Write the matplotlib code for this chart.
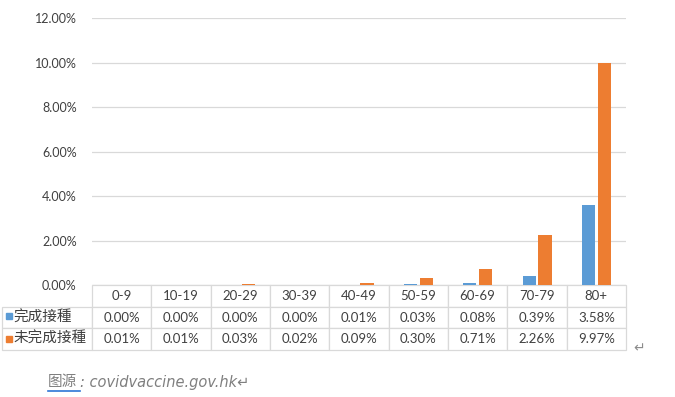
import numpy as np
import matplotlib
matplotlib.use("Agg")
import matplotlib.pyplot as plt
from matplotlib.patches import Rectangle

# 資料
age_groups = ["0-9", "10-19", "20-29", "30-39", "40-49", "50-59", "60-69", "70-79", "80+"]
completed = [0.00, 0.00, 0.00, 0.00, 0.01, 0.03, 0.08, 0.39, 3.58]      # 完成接種 (%)
incomplete = [0.01, 0.01, 0.03, 0.02, 0.09, 0.30, 0.71, 2.26, 9.97]     # 未完成接種 (%)
series_names = ["完成接種", "未完成接種"]
y_ticks = [0, 2, 4, 6, 8, 10, 12]

blue = "#5B9BD5"
orange = "#ED7D31"
grid_color = "#D9D9D9"
text_color = "#404040"
fonts = ["Lato", "Noto Sans CJK TC", "DejaVu Sans"]
plt.rcParams["font.family"] = fonts

W, H = 675, 397
fig = plt.figure(figsize=(W / 100, H / 100), dpi=100)

# área del gráfico en píxeles
x0, x1 = 92, 626
y_top, y_bot = 18, 285
ax = fig.add_axes([x0 / W, (H - y_bot) / H, (x1 - x0) / W, (y_bot - y_top) / H])

x = np.arange(len(age_groups))
ancho = 0.22
ax.bar(x - 0.13, completed, ancho, color=blue, zorder=3)
ax.bar(x + 0.135, incomplete, ancho, color=orange, zorder=3)

ax.set_xlim(-0.5, len(age_groups) - 0.5)
ax.set_ylim(0, 12)
ax.set_yticks(y_ticks)
ax.set_yticklabels([f"{v:.2f}%" for v in y_ticks], fontsize=9, color=text_color)
ax.tick_params(axis="y", length=0, pad=11)
ax.set_xticks([])
ax.grid(axis="y", color=grid_color, linewidth=0.9, zorder=0)
for s in ax.spines.values():
    s.set_visible(False)

# tabla de datos
linhas = [[""] + age_groups,
          [series_names[0]] + [f"{v:.2f}%" for v in completed],
          [series_names[1]] + [f"{v:.2f}%" for v in incomplete]]
tab_left, tab_bot = 2, 350
bw = (x1 - tab_left) / (x1 - x0)
bx = (tab_left - x0) / (x1 - x0)
bh = (tab_bot - y_bot) / (y_bot - y_top)
col_w = [x0 - tab_left] + [(x1 - x0) / len(age_groups)] * len(age_groups)
tabela = ax.table(cellText=linhas, colWidths=[c / sum(col_w) for c in col_w],
                  cellLoc="center", bbox=[bx, -bh, bw, bh])
tabela.auto_set_font_size(False)
for (r, c), cell in tabela.get_celld().items():
    cell.set_edgecolor(grid_color)
    cell.set_linewidth(0.9)
    cell.get_text().set_fontsize(9.5)
    cell.get_text().set_color(text_color)
    cell.get_text().set_fontfamily(fonts)
    if r == 0 and c == 0:
        cell.visible_edges = ""
    if c == 0 and r > 0:
        cell.get_text().set_ha("left")
        cell.get_text().set_fontsize(10.5)
        cell.PAD = 0.13

# cuadritos de leyenda
for i, cor in enumerate([blue, orange]):
    cy = 316 + i * 23
    fig.patches.append(Rectangle((6 / W, (H - cy - 3) / H), 6 / W, 6 / H,
                                 transform=fig.transFigure, color=cor))

# marcas de párrafo y fuente
fig.text(633 / W, (H - 348) / H, "↵", fontsize=10, color="#8C8C8C",
         family=["DejaVu Sans"], va="center")
fig.text(48 / W, (H - 382) / H, "图源", fontsize=10.5, color="#7F7F7F",
         va="center", family=["Noto Sans CJK SC"])
fig.add_artist(plt.Line2D([48 / W, 80 / W], [(H - 391) / H] * 2, color="#2E75D6", lw=1.2))
fig.text(80 / W, (H - 382) / H, ": covidvaccine.gov.hk↵", fontsize=10.5, color="#7F7F7F",
         style="italic", va="center", family=["DejaVu Sans"])

fig.savefig("out.png", dpi=100, facecolor="white")
